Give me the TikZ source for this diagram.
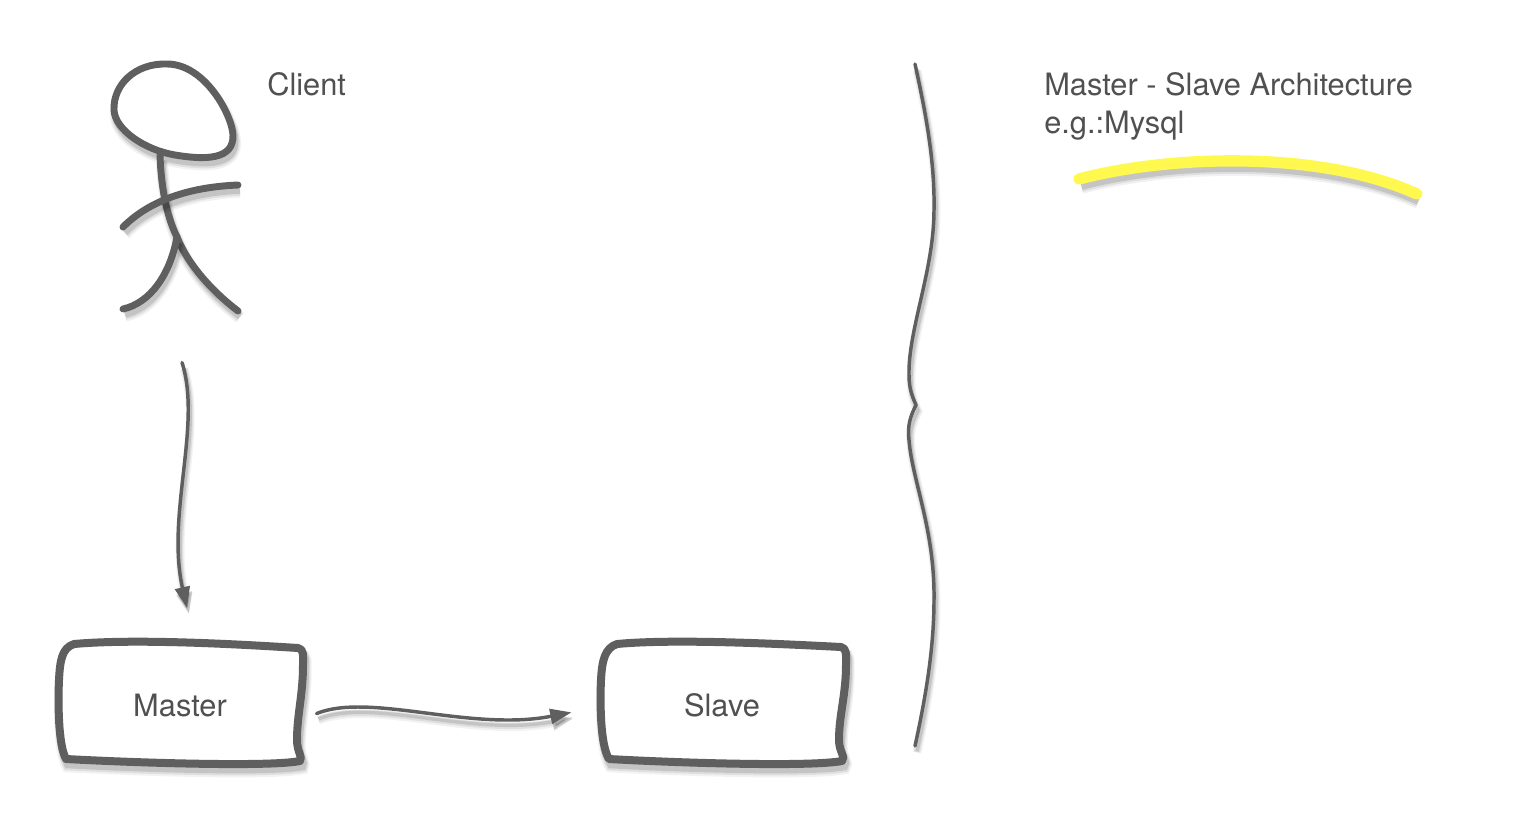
\documentclass[tikz,border=0pt]{standalone}
\usepackage{fontspec}
\setmainfont{TeX Gyre Heros}
\usepackage{xcolor}
\usetikzlibrary{arrows.meta, positioning, calc}

\definecolor{pencil}{HTML}{5F5F5F}
\definecolor{inktext}{HTML}{505050}
\definecolor{marker}{HTML}{FFF84F}

\tikzset{
    softshadow/.style={
        preaction={draw=black, opacity=0.05, line width=#1+4pt, transform canvas={shift={(1.5pt,-5pt)}}},
        preaction={draw=black, opacity=0.08, line width=#1+2pt, transform canvas={shift={(1.5pt,-4.5pt)}}},
        preaction={draw=black, opacity=0.12, line width=#1, transform canvas={shift={(1.5pt,-4pt)}}}
    },
    sketch/.style={draw=pencil, line width=#1, line cap=round, line join=round, softshadow=#1},
    flow/.style={sketch=2.6pt, -{Triangle[length=16pt, width=11pt]}},
    boxlabel/.style={text=inktext, font=\fontsize{23.1}{23.1}\selectfont, minimum width=184pt, minimum height=94pt, inner sep=0pt},
    notelabel/.style={text=inktext, font=\fontsize{23.1}{28.5}\selectfont, inner sep=0pt, align=left, anchor=north west}
}

\begin{document}
\begin{tikzpicture}[x=0.75pt, y=-0.75pt]
    \useasboundingbox (0,0) rectangle (1514,832);

    \draw[sketch=5.2pt, fill=white] (167,64) .. controls (135,63) and (113,85) .. (114,110)
        .. controls (115,130) and (145,150) .. (175,155)
        .. controls (205,160) and (234,160) .. (233,135)
        .. controls (232,115) and (205,64) .. (167,64) -- cycle;
    \draw[sketch=5.2pt] (160,155) .. controls (161,185) and (166,215) .. (177,237)
        .. controls (188,265) and (213,292) .. (238,311);
    \draw[sketch=5.2pt] (123,227) .. controls (150,200) and (190,187) .. (238,185);
    \draw[sketch=5.2pt] (177,237) .. controls (170,275) and (150,303) .. (123,309);

    \node[minimum width=98pt, minimum height=191pt, inner sep=0pt] (actor) at (175,188) {};
    \node[notelabel] (client) at (267,72) {Client};

    \draw[sketch=6pt, fill=white] (74,644) .. controls (130,639) and (220,643) .. (298,648)
        .. controls (304,649) and (303,655) .. (303,665)
        .. controls (303,695) and (297,715) .. (297,740)
        .. controls (297,752) and (303,757) .. (300,761)
        .. controls (270,767) and (140,763) .. (66,759)
        .. controls (58,745) and (58,700) .. (59,680)
        .. controls (60,660) and (62,648) .. (74,644) -- cycle;
    \node[boxlabel] (master) at (180,705) {Master};

    \draw[sketch=6pt, fill=white] (617,644) .. controls (670,639) and (765,643) .. (841,647)
        .. controls (847,648) and (846,655) .. (846,665)
        .. controls (846,695) and (839,715) .. (839,740)
        .. controls (839,752) and (846,757) .. (842,761)
        .. controls (810,767) and (680,763) .. (609,759)
        .. controls (600,745) and (600,700) .. (601,680)
        .. controls (602,660) and (605,648) .. (617,644) -- cycle;
    \node[boxlabel] (slave) at (722,705) {Slave};

    \draw[flow, shorten <=37pt, shorten >=26pt] ([xshift=-6pt]actor.south) .. controls (202,425) and (166,515) .. ([xshift=11pt]master.north);
    \draw[flow, shorten <=11pt, shorten >=21pt] ([yshift=-10.5pt]master.east) .. controls (370,692) and (470,732) .. ([yshift=-1.5pt]slave.west);

    \draw[sketch=2.6pt] (915,64) .. controls (925,110) and (935,160) .. (934,210)
        .. controls (934,270) and (908,330) .. (909,375)
        .. controls (909,390) and (913,398) .. (916,405)
        .. controls (911,415) and (907,425) .. (909,440)
        .. controls (912,480) and (935,530) .. (934,600)
        .. controls (934,650) and (925,700) .. (915,746);

    \node[notelabel] (title) at (1044,72) {Master - Slave Architecture\\e.g.:Mysql};
    \draw[sketch=8.5pt, draw=marker] (1079,179) .. controls (1170,155) and (1320,150) .. (1417,194);
\end{tikzpicture}
\end{document}
